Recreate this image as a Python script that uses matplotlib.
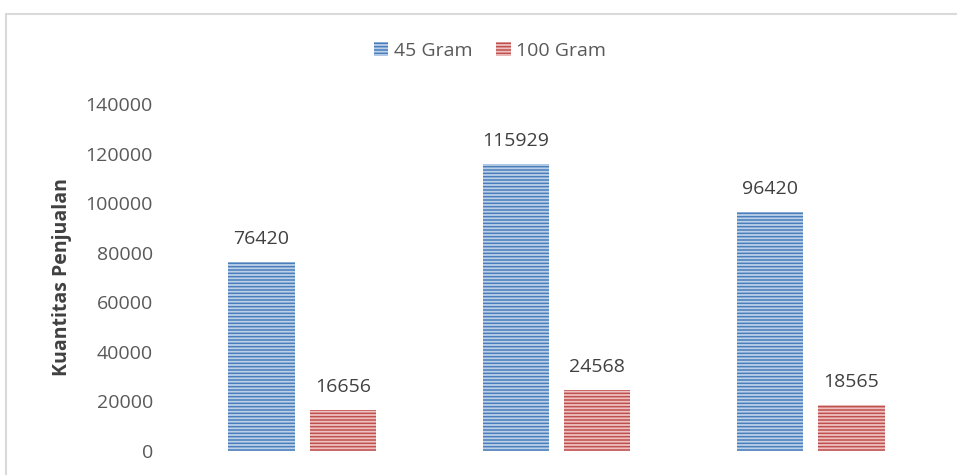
import matplotlib
matplotlib.use("Agg")
import matplotlib.pyplot as plt
from matplotlib.patches import Rectangle
import numpy as np

categories = ["A", "B", "C"]
series_names = ["45 Gram", "100 Gram"]
gram45 = [76420, 115929, 96420]
gram100 = [16656, 24568, 18565]
yticks = [0, 20000, 40000, 60000, 80000, 100000, 120000, 140000]

plt.rcParams['font.family'] = ['Open Sans', 'DejaVu Sans']
plt.rcParams['hatch.linewidth'] = 1.3

W, H = 957, 475
fig = plt.figure(figsize=(W / 100, H / 100), dpi=100)
ax = fig.add_axes([175 / W, 24 / H, (938 - 175) / W, (451 - 104) / H])

x = np.arange(len(categories))
bw = 0.26
off = 0.16
b1 = ax.bar(x - off, gram45, bw, color='#4A7EBB', edgecolor='#BCD0E8', linewidth=0,
            hatch='-----', label=series_names[0])
b2 = ax.bar(x + off, gram100, bw, color='#C0504D', edgecolor='#EDC1C0', linewidth=0,
            hatch='-----', label=series_names[1])

for bars, vals in ((b1, gram45), (b2, gram100)):
    for r, v in zip(bars, vals):
        ax.annotate(str(v), (r.get_x() + r.get_width() / 2, v), xytext=(0, 10),
                    textcoords='offset points', ha='center', va='bottom',
                    fontsize=14, color='#404040')

ax.set_xlim(-0.5, 2.5)
ax.set_ylim(0, 140000)
ax.set_yticks(yticks)
ax.set_yticklabels([str(t) for t in yticks], fontsize=14, color='#595959')
ax.set_xticks([])
ax.tick_params(axis='y', length=0, pad=16)
for s in ax.spines.values():
    s.set_visible(False)
ax.set_ylabel("Kuantitas Penjualan", fontsize=14, fontweight='bold', color='#404040',
              labelpad=10)

leg = fig.legend(handles=[b1, b2], labels=series_names, loc='center',
                 bbox_to_anchor=(490 / W, 1 - 51 / H), ncol=2, frameon=False,
                 fontsize=14, handlelength=0.75, handleheight=0.75, handletextpad=0.3,
                 columnspacing=1.2)
for t in leg.get_texts():
    t.set_color('#595959')

border = Rectangle((5.5 / W, -0.2), 2.0, 1.2 - 13.5 / H, transform=fig.transFigure,
                   fill=False, edgecolor='#D9D9D9', linewidth=1.5, zorder=-1)
fig.patches.append(border)

fig.savefig("out.png", dpi=100, facecolor='white')
